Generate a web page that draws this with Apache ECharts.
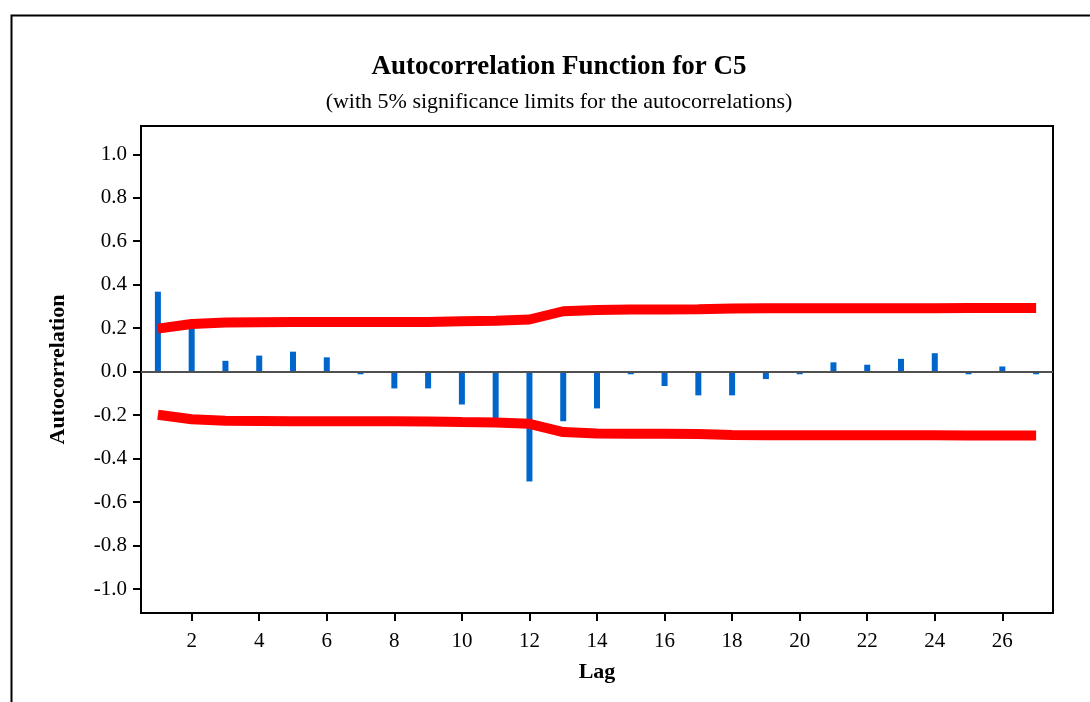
<!DOCTYPE html>
<html>
<head>
<meta charset="utf-8">
<script src="https://cdn.jsdelivr.net/npm/echarts@6/dist/echarts.min.js"></script>
<style>
html,body{margin:0;padding:0;background:#fff;}
#chart{width:1090px;height:702px;}
</style>
</head>
<body>
<div id="chart"></div>
<script>
const lags = [1,2,3,4,5,6,7,8,9,10,11,12,13,14,15,16,17,18,19,20,21,22,23,24,25,26,27];
const acf = [0.368, 0.21, 0.05, 0.074, 0.092, 0.066, -0.012, -0.077, -0.077, -0.151, -0.22, -0.505, -0.228, -0.169, -0.012, -0.066, -0.109, -0.109, -0.034, -0.012, 0.043, 0.032, 0.059, 0.085, -0.012, 0.024, -0.012];
const upperLimit = [0.198, 0.219, 0.226, 0.227, 0.228, 0.228, 0.228, 0.228, 0.229, 0.232, 0.234, 0.240, 0.278, 0.284, 0.286, 0.286, 0.287, 0.291, 0.292, 0.292, 0.292, 0.292, 0.292, 0.292, 0.293, 0.293, 0.293];
const lowerLimit = [-0.198, -0.219, -0.226, -0.227, -0.228, -0.228, -0.228, -0.228, -0.229, -0.232, -0.234, -0.240, -0.278, -0.284, -0.286, -0.286, -0.287, -0.291, -0.292, -0.292, -0.292, -0.292, -0.292, -0.292, -0.293, -0.293, -0.293];
const xTicks = [2,4,6,8,10,12,14,16,18,20,22,24,26];
const yTicks = [-1.0,-0.8,-0.6,-0.4,-0.2,0.0,0.2,0.4,0.6,0.8,1.0];

const serif = "'Liberation Serif', 'DejaVu Serif', serif";
const chart = echarts.init(document.getElementById('chart'), null, {renderer:'canvas'});
chart.setOption({
  animation:false,
  backgroundColor:'#fff',
  graphic:[{
    type:'rect', left:9, top:13, z:-10,
    shape:{x:0,y:0,width:1100,height:700},
    style:{fill:'none',stroke:'#000',lineWidth:2}
  }],
  title:[{
    text:'Autocorrelation Function for C5',
    left:554, top:49, textAlign:'center',
    textStyle:{fontFamily:serif,fontWeight:'bold',fontSize:27,color:'#000'}
  },{
    text:'(with 5% significance limits for the autocorrelations)',
    left:554, top:86, textAlign:'center',
    textStyle:{fontFamily:serif,fontWeight:'normal',fontSize:22,color:'#000'}
  }],
  grid:{left:141,top:126,width:912,height:487,show:true,borderColor:'#000',borderWidth:2,backgroundColor:'transparent',containLabel:false},
  xAxis:{
    type:'value', min:0.5, max:27.5,
    name:'Lag', nameLocation:'middle', nameGap:48,
    nameTextStyle:{fontFamily:serif,fontWeight:'bold',fontSize:22,color:'#000'},
    axisLine:{show:true,onZero:false,lineStyle:{color:'#000',width:2}},
    axisTick:{show:true,length:8,inside:false,customValues:xTicks,lineStyle:{color:'#000',width:2}},
    axisLabel:{customValues:xTicks,margin:18,fontFamily:serif,fontSize:21,color:'#000'},
    splitLine:{show:false}
  },
  yAxis:{
    type:'value', min:-1.11, max:1.13,
    name:'Autocorrelation', nameLocation:'middle', nameGap:72, nameRotate:90,
    nameTextStyle:{fontFamily:serif,fontWeight:'bold',fontSize:22,color:'#000'},
    axisLine:{show:true,onZero:false,lineStyle:{color:'#000',width:2}},
    axisTick:{show:true,length:8,inside:false,customValues:yTicks,lineStyle:{color:'#000',width:2}},
    axisLabel:{customValues:yTicks,margin:14,fontFamily:serif,fontSize:21,color:'#000',
      formatter:function(v){return v.toFixed(1);}},
    splitLine:{show:false}
  },
  series:[{
    type:'bar', z:2,
    barWidth:6,
    itemStyle:{color:'#0066cc'},
    data:lags.map((l,i)=>[l,acf[i]]),
    markLine:{
      silent:true, symbol:['none','none'],
      label:{show:false},
      lineStyle:{color:'#505050',width:2,type:'solid'},
      data:[{yAxis:0}]
    }
  },{
    type:'line', z:3,
    showSymbol:false, symbol:'none',
    lineStyle:{color:'#ff0000',width:10,cap:'butt'},
    data:lags.map((l,i)=>[l,upperLimit[i]])
  },{
    type:'line', z:3,
    showSymbol:false, symbol:'none',
    lineStyle:{color:'#ff0000',width:10,cap:'butt'},
    data:lags.map((l,i)=>[l,lowerLimit[i]])
  }]
});
</script>
</body>
</html>
